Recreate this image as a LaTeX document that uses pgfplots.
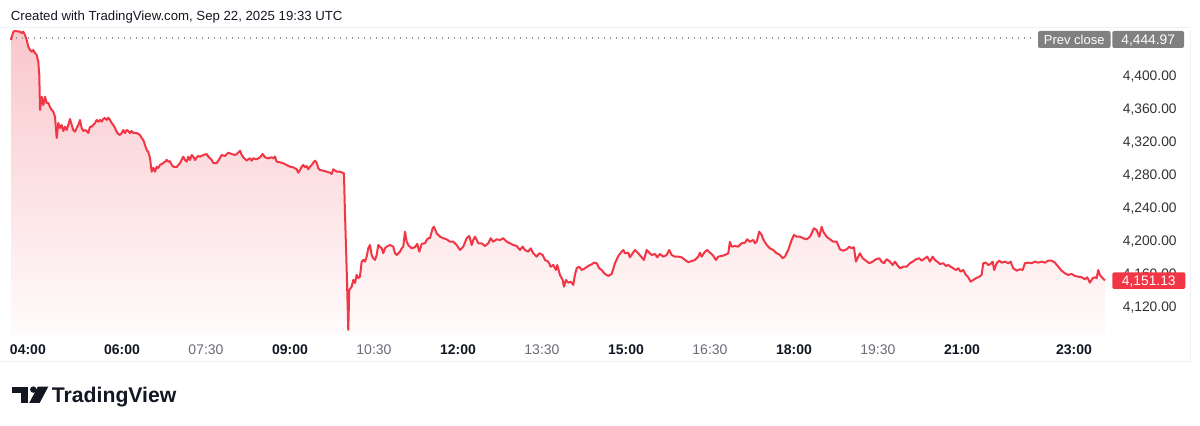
\documentclass[border=0pt]{standalone}
\usepackage{fontspec}
\setmainfont{Liberation Sans}
\usepackage{pgfplots}
\usepackage{pgfplotstable}
\pgfplotsset{compat=1.18}
\definecolor{tvred}{RGB}{242,54,69}
\definecolor{filltop}{RGB}{249,199,204}
\definecolor{fillbot}{RGB}{255,251,251}
\definecolor{tvtext}{RGB}{19,23,34}
\definecolor{tvaxis}{RGB}{50,50,55}
\definecolor{tvgrey}{RGB}{106,109,120}
\definecolor{tvbox}{RGB}{128,128,128}
\definecolor{tvline}{RGB}{238,240,245}
\definecolor{tvdot}{RGB}{150,150,150}

\pgfplotstableread{
h p
4.018 4442.4
4.059 4452.5
4.089 4453.3
4.179 4452.5
4.209 4450.9
4.238 4452.5
4.268 4448.5
4.298 4442.4
4.327 4434.3
4.357 4430.3
4.388 4428.2
4.416 4430.3
4.446 4426.7
4.477 4424.2
4.505 4416.1
4.523 4400.0
4.536 4357.6
4.566 4373.7
4.595 4363.6
4.625 4373.7
4.655 4366.1
4.684 4366.1
4.714 4361.2
4.745 4357.6
4.773 4355.5
4.804 4349.5
4.834 4323.6
4.863 4341.8
4.893 4335.8
4.923 4339.4
4.952 4332.1
4.982 4337.3
5.013 4333.3
5.041 4339.4
5.071 4346.7
5.102 4339.4
5.130 4333.3
5.161 4331.3
5.191 4335.8
5.220 4339.4
5.250 4345.5
5.280 4335.8
5.309 4332.1
5.339 4333.3
5.370 4332.1
5.398 4329.7
5.429 4337.3
5.459 4337.3
5.488 4339.4
5.518 4341.8
5.548 4345.5
5.577 4343.4
5.607 4345.5
5.638 4343.4
5.666 4346.7
5.696 4347.9
5.727 4345.5
5.755 4348.2
5.786 4345.5
5.816 4341.8
5.845 4339.4
5.875 4335.8
5.905 4331.3
5.934 4328.5
5.964 4327.3
5.995 4329.7
6.023 4333.3
6.054 4329.7
6.084 4333.3
6.113 4332.1
6.143 4329.7
6.173 4332.1
6.202 4329.7
6.263 4329.7
6.291 4328.5
6.321 4327.3
6.352 4323.6
6.380 4321.2
6.411 4315.2
6.441 4309.1
6.470 4306.7
6.500 4299.4
6.530 4282.8
6.559 4287.3
6.589 4282.8
6.620 4288.8
6.648 4287.3
6.679 4290.9
6.738 4293.3
6.768 4294.9
6.798 4297.0
6.827 4294.9
6.857 4295.5
6.888 4290.9
6.916 4288.8
6.977 4288.5
7.036 4293.3
7.095 4301.0
7.125 4297.0
7.155 4294.9
7.184 4301.0
7.214 4297.0
7.245 4303.0
7.273 4301.0
7.304 4297.0
7.334 4300.2
7.363 4301.8
7.393 4301.0
7.452 4303.0
7.513 4304.2
7.541 4301.0
7.602 4297.0
7.630 4293.3
7.691 4293.3
7.750 4299.4
7.780 4303.0
7.839 4301.8
7.898 4305.8
7.959 4304.2
8.018 4303.0
8.048 4304.2
8.107 4308.2
8.138 4303.0
8.166 4300.2
8.227 4296.1
8.255 4297.8
8.286 4299.0
8.316 4296.1
8.345 4299.0
8.405 4297.8
8.464 4300.2
8.513 4304.2
8.554 4300.2
8.613 4299.0
8.673 4300.2
8.702 4299.0
8.732 4301.0
8.763 4294.9
8.821 4294.2
8.880 4293.0
8.941 4290.9
9.000 4288.8
9.059 4288.1
9.120 4285.7
9.148 4281.6
9.179 4284.8
9.209 4288.8
9.238 4290.9
9.268 4288.1
9.298 4289.7
9.327 4285.7
9.357 4288.8
9.388 4290.9
9.416 4293.7
9.446 4296.1
9.477 4293.7
9.505 4286.9
9.536 4284.8
9.595 4284.0
9.655 4282.8
9.714 4281.6
9.745 4280.0
9.773 4285.7
9.834 4282.8
9.893 4282.8
9.964 4280.8
9.982 4232.7
10.013 4163.6
10.041 4090.9
10.059 4139.4
10.102 4143.4
10.130 4151.5
10.161 4147.9
10.191 4157.6
10.220 4153.9
10.250 4155.5
10.280 4173.7
10.309 4175.8
10.339 4173.7
10.370 4179.8
10.398 4189.9
10.429 4193.9
10.459 4181.8
10.488 4177.8
10.518 4175.8
10.548 4181.8
10.577 4193.9
10.607 4191.9
10.638 4189.9
10.666 4183.9
10.696 4189.9
10.727 4191.9
10.786 4193.9
10.845 4191.9
10.875 4183.9
10.905 4181.8
10.964 4185.8
10.995 4189.9
11.023 4191.9
11.054 4210.1
11.084 4198.0
11.113 4193.9
11.173 4189.9
11.232 4191.2
11.273 4195.2
11.309 4185.8
11.352 4195.2
11.411 4196.0
11.441 4200.0
11.470 4202.1
11.500 4202.1
11.548 4214.2
11.571 4216.1
11.620 4208.1
11.679 4204.0
11.738 4202.1
11.798 4200.8
11.857 4197.9
11.916 4197.9
11.977 4193.9
12.036 4187.9
12.095 4191.9
12.155 4202.1
12.202 4204.8
12.245 4193.9
12.273 4200.0
12.304 4204.0
12.363 4196.0
12.423 4196.0
12.482 4192.7
12.541 4196.0
12.584 4202.1
12.630 4197.9
12.691 4200.8
12.750 4200.0
12.809 4202.1
12.870 4197.9
12.929 4196.0
12.988 4193.9
13.048 4192.7
13.107 4187.9
13.155 4191.9
13.196 4187.9
13.255 4185.8
13.298 4189.9
13.345 4183.9
13.405 4179.8
13.452 4183.9
13.513 4181.8
13.554 4175.8
13.613 4173.7
13.655 4167.6
13.702 4169.7
13.750 4163.6
13.773 4169.7
13.821 4157.6
13.870 4151.5
13.893 4143.4
13.929 4151.5
13.970 4148.2
14.013 4149.5
14.059 4145.5
14.089 4157.6
14.120 4165.7
14.166 4167.6
14.209 4163.6
14.268 4165.7
14.327 4168.5
14.388 4170.5
14.429 4172.5
14.477 4171.8
14.523 4165.7
14.566 4163.6
14.625 4158.8
14.684 4156.4
14.745 4158.8
14.804 4171.8
14.863 4180.6
14.923 4185.8
14.952 4187.9
14.982 4183.9
15.041 4184.6
15.071 4179.0
15.120 4183.9
15.161 4187.9
15.220 4183.9
15.280 4179.0
15.321 4175.8
15.370 4187.9
15.398 4185.8
15.459 4181.8
15.518 4183.0
15.559 4179.0
15.607 4183.0
15.666 4179.8
15.727 4181.8
15.773 4187.9
15.816 4181.8
15.875 4179.8
15.934 4179.8
15.995 4179.0
16.054 4175.8
16.113 4173.0
16.173 4174.5
16.232 4175.8
16.291 4179.8
16.321 4184.6
16.352 4179.8
16.411 4185.8
16.452 4187.9
16.500 4184.6
16.548 4181.8
16.607 4175.8
16.648 4179.8
16.709 4180.6
16.768 4181.8
16.827 4183.9
16.857 4197.9
16.888 4191.9
16.946 4192.7
17.005 4191.9
17.066 4196.0
17.125 4196.7
17.166 4200.8
17.214 4197.9
17.273 4200.0
17.304 4196.0
17.334 4197.9
17.380 4210.1
17.423 4206.1
17.452 4200.8
17.513 4193.9
17.571 4189.9
17.630 4187.9
17.691 4183.9
17.750 4181.8
17.798 4177.8
17.839 4179.8
17.898 4187.9
17.959 4200.0
18.000 4206.1
18.048 4204.0
18.107 4204.0
18.166 4202.1
18.227 4200.8
18.286 4204.0
18.316 4208.1
18.357 4214.2
18.405 4212.1
18.452 4204.0
18.495 4216.1
18.523 4210.1
18.584 4204.0
18.643 4200.8
18.702 4197.9
18.763 4197.9
18.821 4188.7
18.880 4187.0
18.941 4188.7
18.988 4191.9
19.030 4189.9
19.071 4191.2
19.107 4173.7
19.148 4179.8
19.179 4183.9
19.227 4177.8
19.286 4174.9
19.345 4171.8
19.405 4173.7
19.464 4176.6
19.523 4177.8
19.566 4173.7
19.607 4171.8
19.655 4176.6
19.714 4173.7
19.763 4169.7
19.804 4173.7
19.845 4169.7
19.893 4165.7
19.952 4167.6
20.013 4167.6
20.071 4171.8
20.120 4173.7
20.179 4176.6
20.238 4177.8
20.280 4174.9
20.339 4177.8
20.380 4179.8
20.429 4173.7
20.477 4179.8
20.518 4175.8
20.559 4173.7
20.607 4170.9
20.666 4171.8
20.714 4168.5
20.755 4169.7
20.798 4167.6
20.845 4165.7
20.893 4163.6
20.934 4165.7
20.977 4161.6
21.023 4163.6
21.071 4157.6
21.113 4154.8
21.155 4149.5
21.202 4151.5
21.250 4153.6
21.309 4155.5
21.352 4157.6
21.380 4171.8
21.429 4172.5
21.470 4169.7
21.513 4170.9
21.548 4173.7
21.577 4163.6
21.620 4171.8
21.666 4174.9
21.709 4172.5
21.768 4173.7
21.827 4171.8
21.870 4173.7
21.916 4165.7
21.977 4162.8
22.036 4164.5
22.084 4163.6
22.125 4171.8
22.184 4172.5
22.245 4171.8
22.304 4173.7
22.363 4172.5
22.423 4173.7
22.482 4172.5
22.541 4174.9
22.602 4174.9
22.661 4172.5
22.720 4167.6
22.780 4162.8
22.839 4159.6
22.898 4157.6
22.959 4158.8
23.018 4156.4
23.077 4155.5
23.138 4154.8
23.196 4152.3
23.238 4154.8
23.286 4148.2
23.334 4153.6
23.375 4154.8
23.405 4153.6
23.434 4163.6
23.464 4157.6
23.513 4153.6
23.554 4151.1
}\pricedata

\begin{document}
\begin{tikzpicture}
\path[use as bounding box] (0,0) rectangle (600pt,213pt);
\fill[white] (0,0) rectangle (600pt,213pt);
\begin{scope}[x=0.5pt,y=-0.5pt,shift={(0pt,213pt)}]
  % faint frame lines
  \draw[tvline, line width=0.5pt] (0,28) -- (1190,28);
  \draw[tvline, line width=0.5pt] (0,362) -- (1190,362);
  \draw[tvline, line width=0.5pt] (1190,28) -- (1190,362);
\end{scope}
\begin{axis}[
  at={(5pt,45.5pt)}, anchor=south west,
  scale only axis, width=551pt, height=153.5pt,
  xmin=4, xmax=23.68, ymin=4084.8, ymax=4457,
  axis x line=bottom, axis y line=right,
  axis line style={draw=none},
  major tick length=0pt, tick style={draw=none},
  scaled y ticks=false,
  ytick={4120,4160,4200,4240,4280,4320,4360,4400},
  yticklabel style={anchor=east, inner sep=0pt, xshift=32.5pt, yshift=-1pt, text=tvaxis,
    font=\fontsize{6.9}{8}\selectfont,
    /pgf/number format/fixed, /pgf/number format/fixed zerofill,
    /pgf/number format/precision=2, /pgf/number format/1000 sep={,},
    /pgf/number format/assume math mode=true},
  xtick={4,6,7.5,9,10.5,12,13.5,15,16.5,18,19.5,21,23},
  xticklabels={\makebox[0pt][l]{\bfseries 04:00},{\bfseries 06:00},{\color{tvgrey}07:30},{\bfseries 09:00},{\color{tvgrey}10:30},{\bfseries 12:00},{\color{tvgrey}13:30},{\bfseries 15:00},{\color{tvgrey}16:30},{\bfseries 18:00},{\color{tvgrey}19:30},{\bfseries 21:00},{\bfseries 23:00}},
  xticklabel style={anchor=north, inner sep=0pt, yshift=-4.5pt, text=tvtext,
    font=\fontsize{7}{8}\selectfont},
]
\addplot[draw=none, top color=filltop, bottom color=fillbot]
  table[x=h,y=p]{\pricedata} -- (axis cs:23.554,4084.8) -- (axis cs:4.018,4084.8) -- cycle;
\addplot[tvdot, line width=0.6pt, dash pattern=on 0.5pt off 2.5pt]
  coordinates {(4,4444.97) (22.3,4444.97)};
\addplot[tvred, line width=1pt, line join=round] table[x=h,y=p]{\pricedata};
\end{axis}
\begin{scope}[x=0.5pt,y=-0.5pt,shift={(0pt,213pt)}]
  % header
  \node[anchor=base west, inner sep=0pt, text=tvtext, font=\fontsize{6.6}{7}\selectfont]
    at (10.5,21) {Created with TradingView.com, Sep 22, 2025 19:33 UTC};
  % prev close boxes
  \fill[tvbox, rounded corners=1pt] (1038,31) rectangle (1110.5,48);
  \node[anchor=base, inner sep=0pt, text=white, font=\fontsize{6.5}{7}\selectfont]
    at (1074.25,44.3) {Prev close};
  \fill[tvbox, rounded corners=1pt] (1112.3,31) rectangle (1184,48);
  \node[anchor=base, inner sep=0pt, text=white, font=\fontsize{6.9}{7}\selectfont]
    at (1148.2,44.3) {4,444.97};
  % last price box
  \fill[tvred, rounded corners=1pt] (1112.3,272.3) rectangle (1185.3,289);
  \node[anchor=base, inner sep=0pt, text=white, font=\fontsize{6.9}{7}\selectfont]
    at (1148.8,285.5) {4,151.13};
  % logo
  \fill[tvtext] (12.3,386.7) rectangle (28.3,392.7);
  \fill[tvtext] (20.7,386.7) rectangle (28.3,403);
  \fill[tvtext] (33.3,389.6) circle (3.2);
  \fill[tvtext] (37.8,386.7) -- (48.3,386.7) -- (39.6,403) -- (29.2,403) -- cycle;
  \node[anchor=base west, inner sep=0pt, text=tvtext, font=\fontsize{10.6}{12}\selectfont\bfseries]
    at (51.5,403) {TradingView};
\end{scope}
\end{tikzpicture}
\end{document}
